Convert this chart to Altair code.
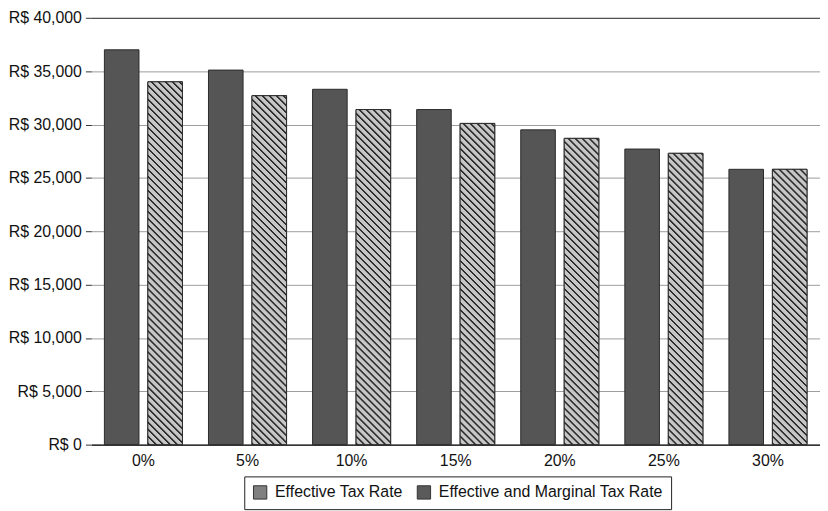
import math
import altair as alt
import pandas as pd

# ---------------- data ----------------
rates = ["0%", "5%", "10%", "15%", "20%", "25%", "30%"]
effective = [37000, 35100, 33300, 31400, 29500, 27700, 25800]
marginal = [34000, 32700, 31400, 30100, 28700, 27300, 25800]
series_names = ["Effective Tax Rate", "Effective and Marginal Tax Rate"]
y_ticks = [0, 5000, 10000, 15000, 20000, 25000, 30000, 35000, 40000]

# ---------------- layout / style ----------------
PLOT_W = 734
PLOT_H = 430
Y_MAX = 40000
X_PAD_IN = 0.25
OFF_PAD = 0.2045
DARK = "#555555"
LIGHT = "#c6c6c6"
LINE = "#2e2e2e"
FONT = "Liberation Sans"

rows = []
for r, e, m in zip(rates, effective, marginal):
    rows.append({"rate": r, "series": series_names[0], "value": e})
    rows.append({"rate": r, "series": series_names[1], "value": m})
df = pd.DataFrame(rows)

step = PLOT_W / len(rates)
band = step * (1 - X_PAD_IN)
bar_w = band * (1 - OFF_PAD) / (2 - OFF_PAD)


def hatch(v):
    """Diagonal hatch as a striped linear gradient (bbox units)."""
    h = v / Y_MAX * PLOT_H
    r = bar_w / h
    beta = (r + 1) / (r * r + 1)
    span = (bar_w + h) / math.sqrt(2)
    period = 5.0
    n = span / period
    profile = [(0.0, LIGHT), (0.10, LINE), (0.30, LINE), (0.42, LIGHT)]
    stops = []
    j = 0
    while j / n < 1:
        for frac, col in profile:
            off = (j + frac) / n
            if off <= 1:
                stops.append({"offset": round(off, 5), "color": col})
        j += 1
    stops.append({"offset": 1, "color": LIGHT})
    return {
        "gradient": "linear",
        "x1": 0, "y1": 1,
        "x2": round(r * beta, 5), "y2": round(1 - beta, 5),
        "stops": stops,
    }


fill_def = {
    "condition": [
        {"test": f"datum.rate === '{r}'", "value": hatch(m)}
        for r, m in zip(rates, marginal)
    ],
    "value": LIGHT,
}

base = alt.Chart(df).encode(
    x=alt.X(
        "rate:N",
        sort=rates,
        scale=alt.Scale(domain=rates, paddingInner=X_PAD_IN, paddingOuter=X_PAD_IN / 2),
        axis=alt.Axis(
            title=None, labelAngle=0, ticks=False, domainColor="#111111",
            domainWidth=1, labelPadding=8, labelFontSize=16, labelColor="#111111",
            grid=False,
        ),
    ),
    xOffset=alt.XOffset(
        "series:N",
        sort=series_names,
        scale=alt.Scale(domain=series_names, paddingInner=OFF_PAD, paddingOuter=0),
    ),
    y=alt.Y(
        "value:Q",
        scale=alt.Scale(domain=[0, Y_MAX], nice=False),
        axis=alt.Axis(
            title=None, values=y_ticks,
            labelExpr="'R$ ' + format(datum.value, ',')",
            domain=False, tickSize=6, tickColor="#333333", tickWidth=1,
            labelPadding=4, labelFontSize=16, labelColor="#111111",
            grid=True, gridWidth=1,
            gridColor={
                "condition": {"test": "datum.value === 40000 || datum.value === 0",
                              "value": "#222222"},
                "value": "#9c9c9c",
            },
        ),
    ),
)

bars = base.mark_bar(fill=DARK, stroke="#2b2b2b", strokeWidth=1).encode(
    color=alt.Color(
        "series:N",
        scale=alt.Scale(domain=series_names, range=["#808080", "#5a5a5a"]),
        legend=alt.Legend(
            title=None, orient="none", legendX=154, legendY=PLOT_H + 32,
            direction="horizontal", strokeColor="#222222", padding=8,
            symbolType="square", symbolSize=180, symbolStrokeColor="#333333",
            symbolStrokeWidth=1, symbolOpacity=1, labelFontSize=16,
            labelColor="#111111", labelOffset=7, columnPadding=12, labelLimit=400,
        ),
    )
)

hatched = base.transform_filter(
    alt.datum.series == series_names[1]
).mark_bar(stroke="#2b2b2b", strokeWidth=1).encode(fill=fill_def)

chart = (
    alt.layer(bars, hatched)
    .properties(width=PLOT_W, height=PLOT_H,
                padding={"left": 0, "top": 0, "right": 0, "bottom": 0})
    .configure(font=FONT)
    .configure_view(stroke=None)
)

chart.save("out.html", embed_options={"renderer": "svg", "actions": False})
